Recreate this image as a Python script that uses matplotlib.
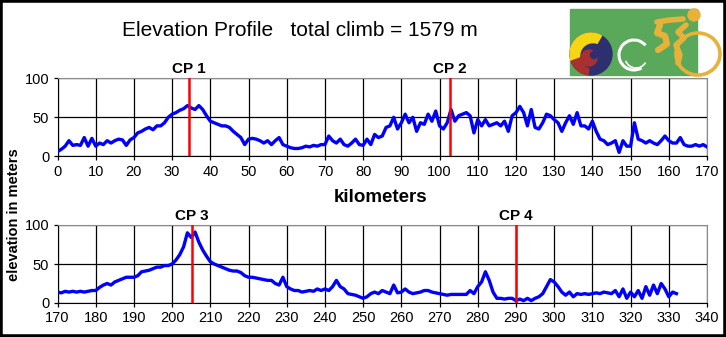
import matplotlib
matplotlib.use("Agg")
import matplotlib.pyplot as plt
from matplotlib.patches import Rectangle, Circle, Wedge, Arc
import numpy as np

plt.rcParams['font.family'] = ['Liberation Sans', 'DejaVu Sans']

# elevation (m) at each km, first half 0..170 km
elev_a = [6, 9, 13, 20, 14, 15, 14, 24, 13, 23, 13, 17, 15, 20, 17, 20, 22, 21, 14, 21,
          24, 30, 32, 35, 37, 34, 39, 39, 43, 50, 54, 56, 59, 61, 65, 62, 60, 65, 60, 52,
          45, 43, 41, 39, 39, 37, 32, 28, 24, 15, 22, 23, 22, 20, 17, 20, 15, 20, 24, 15,
          13, 11, 10, 10, 11, 13, 12, 14, 13, 15, 15, 26, 20, 17, 22, 15, 13, 17, 22, 15,
          14, 22, 15, 28, 24, 26, 37, 39, 50, 35, 43, 54, 43, 50, 32, 43, 41, 54, 45, 58,
          39, 35, 43, 60, 45, 52, 54, 56, 52, 30, 47, 39, 47, 39, 41, 43, 39, 45, 32, 52,
          56, 64, 56, 39, 60, 37, 35, 43, 54, 52, 47, 43, 32, 43, 52, 41, 56, 39, 39, 35,
          45, 32, 22, 20, 15, 17, 20, 5, 20, 13, 13, 43, 22, 20, 17, 20, 17, 15, 20, 26,
          20, 17, 17, 24, 15, 13, 13, 15, 13, 15, 12]
# second half 170..332 km
elev_b = [14, 13, 15, 14, 15, 14, 15, 14, 15, 16, 16, 20, 23, 25, 23, 27, 29, 31, 33, 33,
          33, 35, 40, 41, 42, 44, 46, 46, 48, 48, 50, 55, 62, 72, 90, 84, 91, 78, 68, 60,
          53, 50, 48, 46, 44, 42, 41, 41, 39, 35, 33, 33, 32, 31, 30, 29, 29, 25, 23, 33,
          21, 18, 16, 16, 14, 15, 16, 15, 18, 16, 18, 16, 21, 29, 21, 18, 12, 11, 10, 8,
          6, 8, 12, 14, 12, 16, 14, 12, 23, 13, 14, 18, 14, 12, 13, 14, 16, 16, 14, 13,
          12, 11, 10, 11, 11, 11, 11, 11, 16, 12, 21, 27, 40, 29, 14, 6, 6, 5, 6, 6,
          3, 5, 3, 6, 3, 6, 8, 12, 21, 30, 27, 21, 14, 10, 14, 8, 12, 11, 12, 11,
          12, 13, 12, 14, 13, 12, 16, 8, 18, 6, 14, 8, 16, 6, 21, 10, 23, 12, 25, 18,
          8, 14, 12]
km_a = np.arange(0, 0 + len(elev_a))
km_b = np.arange(170, 170 + len(elev_b))

checkpoints = {"CP 1": 34.5, "CP 2": 102.8, "CP 3": 205.2, "CP 4": 290.0}

fig = plt.figure(figsize=(7.26, 3.37), dpi=100)
W, H = 726, 337

def make_axes(top_px, xmin, xmax, km, elev):
    ax = fig.add_axes([57.5 / W, 1 - (top_px + 78) / H, 649.5 / W, 78 / H])
    ax.set_xlim(xmin, xmax)
    ax.set_ylim(0, 100)
    ax.set_xticks(np.arange(xmin, xmax + 1, 10))
    ax.set_yticks([0, 50, 100])
    ax.grid(True, color='black', lw=0.9)
    ax.tick_params(labelsize=10.5, length=3, width=0.9, pad=3)
    for s in ('top', 'right'):
        ax.spines[s].set_color('#8c8c8c')
    for s in ('left', 'bottom'):
        ax.spines[s].set_color('black')
    ax.plot(km, elev, color='#0000ff', lw=2.4, zorder=3)
    for name, x in checkpoints.items():
        if xmin <= x <= xmax:
            ax.axvline(x, color='#ff0000', lw=1.8, zorder=4)
            ax.text(x, 103, name, ha='center', va='bottom', fontsize=11,
                    fontweight='bold')
    return ax

ax1 = make_axes(78.3, 0, 170, km_a, elev_a)
ax2 = make_axes(225, 170, 340, km_b, elev_b)

fig.text(300 / W, 1 - 31 / H, "Elevation Profile   total climb = 1579 m",
         ha='center', va='center', fontsize=15)
fig.text(381 / W, 1 - 198 / H, "kilometers", ha='center', va='center',
         fontsize=13.5, fontweight='bold')
fig.text(14 / W, 1 - 215 / H, "elevation in meters", ha='center', va='center',
         rotation=90, fontsize=10.5, fontweight='bold')

# logo, drawn in pixel units (y measured upward)
lg = fig.add_axes([565 / W, 0, 161 / W, 1])
lg.set_xlim(565, 726)
lg.set_ylim(0, 337)
lg.axis('off')
orange = '#e8b23a'
lg.add_patch(Rectangle((570, 262), 127, 66, color='#5aa85a'))
# three-colour swirl
lg.add_patch(Circle((591, 283), 21, color='#2d2f70'))
lg.add_patch(Wedge((591, 283), 21, 60, 200, color='#f5d615'))
lg.add_patch(Wedge((591, 283), 21, 200, 262, color='#a8302e'))
lg.add_patch(Circle((593, 281), 12, color='#2d2f70'))
lg.add_patch(Circle((589, 279), 8, color='#a8302e'))
lg.add_patch(Circle((594, 282), 3.5, color='#2d2f70'))
# white brush circle
lg.add_patch(Arc((634, 282), 30, 30, theta1=40, theta2=300, color='white', lw=2.2))
lg.add_patch(Arc((636, 280), 22, 22, theta1=200, theta2=330, color='white', lw=1.2))
# cyclist
lg.add_patch(Arc((698, 283), 44, 42, color=orange, lw=2.6))
lg.add_patch(Circle((694, 322), 6, color=orange))
lg.plot([657, 670, 683], [315, 317, 318], color=orange, lw=4, solid_capstyle='round')
lg.plot([660, 657, 665, 667, 658], [312, 304, 301, 293, 287], color=orange, lw=4.5,
        solid_capstyle='round')
lg.plot([686, 678, 684, 676, 680, 678], [312, 305, 299, 292, 282, 274], color=orange,
        lw=4, solid_capstyle='round')

# outer frame
fig.patches.append(Rectangle((0, 0), 1, 1, transform=fig.transFigure,
                             fill=False, edgecolor='black', lw=4))

fig.savefig("out.png", dpi=100)
